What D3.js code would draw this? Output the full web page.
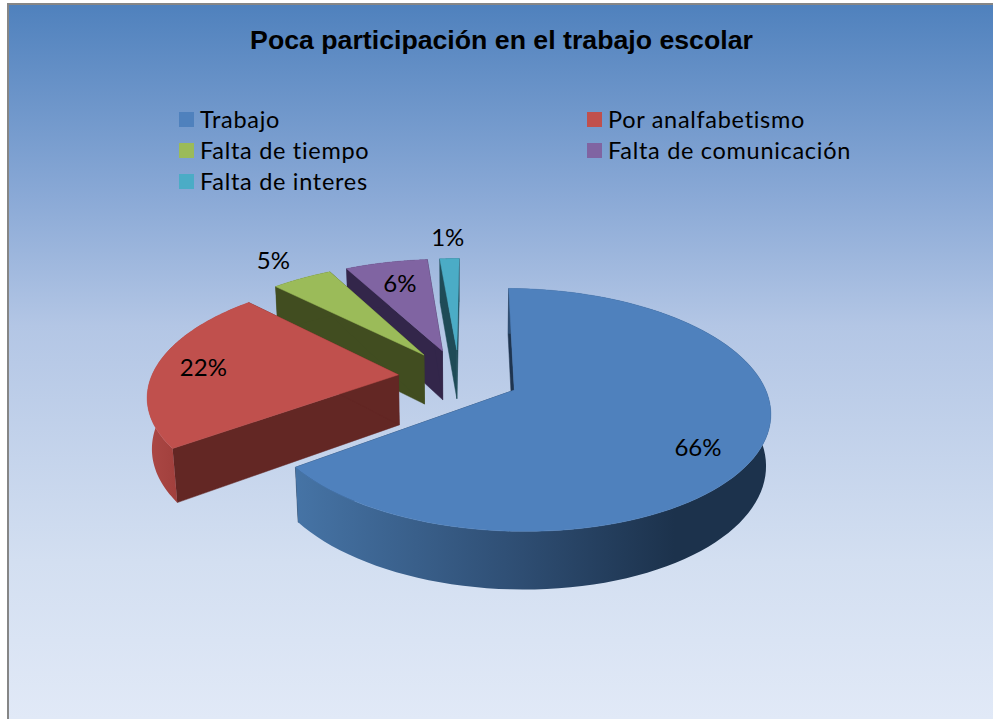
<!DOCTYPE html>
<html>
<head>
<meta charset="utf-8">
<script src="https://cdnjs.cloudflare.com/ajax/libs/d3/7.8.5/d3.min.js"></script>
<style>
html, body { margin: 0; padding: 0; background: #fff; }
svg { display: block; }
</style>
</head>
<body>
<svg id="chart"></svg>
<script>
const chartTitle = "Poca participación en el trabajo escolar"
const categories = ["Trabajo", "Por analfabetismo", "Falta de tiempo", "Falta de comunicación", "Falta de interes"]
// printed on the slices
const percents = [66, 22, 5, 6, 1]
// wedge sizes as measured on the drawn pie, the 3d view makes them differ a bit from the printed ones
const wedgeShares = [64.8, 22.6, 4.7, 6.4, 1.5]
const topColors = ["#4f81bd", "#c0504d", "#9bbb59", "#8064a2", "#4bacc6"]
const wallColors = ["#1f3550", "#632724", "#414d20", "#33264a", "#1f4b57"]
// how far out along the slice each % label sits, 1 = on the edge
const labelRadius = [0.8, 0.805, 1.27, 0.73, 1.28]
// label turned away from the middle of the slice, in radians
const labelTurn = [0.125, 0, 0, 0, 0]

const width = 993
const height = 719

// the 3d look: squashed disc with a bit of perspective
const cx = 459, cy = 377
const radiusX = 247, radiusY = 114
const perspective = 0.16, depth = 51, depthShrink = 0.015
const explode = 0.247

const svg = d3.select("#chart").attr("width", width).attr("height", height)
const defs = svg.append("defs")

const bg = defs.append("linearGradient").attr("id", "bg").attr("x1", 0).attr("y1", 0).attr("x2", 0).attr("y2", 1)
bg.append("stop").attr("offset", "0%").attr("stop-color", "#4f81bd")
bg.append("stop").attr("offset", "27%").attr("stop-color", "#8aa9d6")
bg.append("stop").attr("offset", "45%").attr("stop-color", "#b3c6e5")
bg.append("stop").attr("offset", "78%").attr("stop-color", "#d3dff1")
bg.append("stop").attr("offset", "100%").attr("stop-color", "#e1e9f7")

const rimBlue = defs.append("linearGradient").attr("id", "rimBlue")
    .attr("gradientUnits", "userSpaceOnUse").attr("x1", 293).attr("y1", 0).attr("x2", 770).attr("y2", 0)
rimBlue.append("stop").attr("offset", "0%").attr("stop-color", "#4674a6")
rimBlue.append("stop").attr("offset", "48%").attr("stop-color", "#2e4d72")
rimBlue.append("stop").attr("offset", "80%").attr("stop-color", "#1c324c")
rimBlue.append("stop").attr("offset", "100%").attr("stop-color", "#1c324c")

const rimRed = defs.append("linearGradient").attr("id", "rimRed")
    .attr("gradientUnits", "userSpaceOnUse").attr("x1", 149).attr("y1", 0).attr("x2", 180).attr("y2", 0)
rimRed.append("stop").attr("offset", "0%").attr("stop-color", "#ab4744")
rimRed.append("stop").attr("offset", "100%").attr("stop-color", "#a03f3c")

const rimFills = ["url(#rimBlue)", "url(#rimRed)", wallColors[2], wallColors[3], wallColors[4]]

// background and the grey frame on the left and top
svg.append("rect").attr("x", 8).attr("y", 4).attr("width", width - 8).attr("height", height - 4).attr("fill", "url(#bg)")
svg.append("path").attr("d", `M8,${height}V4H${width}`).attr("fill", "none").attr("stroke", "#868686").attr("stroke-width", 2)

// u is left/right on the disc, v is back/front, z is 0 on top and 1 on the bottom
const project = (u, v, z) => {
    const w = 1 - perspective * v + depthShrink * z
    return [cx + radiusX * u / w, cy + (radiusY * v + depth * z) / w]
}

const slices = d3.pie().sort(null).value(d => d).startAngle(0.01).endAngle(2 * Math.PI + 0.01)(wedgeShares)
const line = d3.line()

slices.forEach(s => {
    s.mid = (s.startAngle + s.endAngle) / 2
    s.offU = explode * Math.sin(s.mid)
    s.offV = -explode * Math.cos(s.mid)
})

const onDisc = (s, angle, r, z) => project(s.offU + r * Math.sin(angle), s.offV - r * Math.cos(angle), z)
const arcPoints = (s, z) => d3.range(0, 1.0001, 0.01).map(t => onDisc(s, s.startAngle + t * (s.endAngle - s.startAngle), 1, z))

// back slices first, the big one goes over everything
const order = [4, 3, 2, 1, 0]
const pieG = svg.append("g")

order.forEach(i => {
    const s = slices[i]
    const g = pieG.append("g")
    const apexTop = onDisc(s, s.mid, 0, 0)
    const apexBottom = onDisc(s, s.mid, 0, 1)

    const walls = [s.startAngle, s.endAngle].map(a => [apexTop, onDisc(s, a, 1, 0), onDisc(s, a, 1, 1), apexBottom])
    g.selectAll(".wall").data(walls).enter().append("path")
        .attr("class", "wall")
        .attr("d", d => line(d) + "Z")
        .attr("fill", wallColors[i])
        .attr("stroke", wallColors[i])
        .attr("stroke-width", 0.5)

    g.append("path")
        .attr("d", line(arcPoints(s, 0).concat(arcPoints(s, 1).reverse())) + "Z")
        .attr("fill", rimFills[i])

    g.append("path")
        .attr("d", line([apexTop].concat(arcPoints(s, 0))) + "Z")
        .attr("fill", topColors[i])
        .attr("stroke", topColors[i])
        .attr("stroke-width", 0.5)
})

// labels
const labelFont = "Lato, 'Noto Sans', sans-serif"
svg.selectAll(".pct").data(slices).enter().append("text")
    .attr("class", "pct")
    .attr("transform", (s, i) => `translate(${onDisc(s, s.mid + labelTurn[i], labelRadius[i], 0)})`)
    .attr("text-anchor", "middle")
    .attr("dy", "0.35em")
    .attr("font-family", labelFont)
    .attr("font-size", 24)
    .attr("fill", "#000")
    .text((s, i) => percents[i] + "%")

svg.append("text")
    .attr("x", 501.5)
    .attr("y", 49)
    .attr("text-anchor", "middle")
    .attr("font-family", "'Liberation Sans', Arial, sans-serif")
    .attr("font-weight", "bold")
    .attr("font-size", 26.7)
    .attr("fill", "#000")
    .text(chartTitle)

// legend fills left to right, two columns
const legendX = d3.scalePoint().domain([0, 1]).range([179, 587])
const legendY = d3.scalePoint().domain([0, 1, 2]).range([112, 174])
const legend = svg.selectAll(".legend").data(categories).enter().append("g")
    .attr("class", "legend")
    .attr("transform", (d, i) => `translate(${legendX(i % 2)},${legendY(Math.floor(i / 2))})`)
legend.append("rect")
    .attr("width", 15).attr("height", 15)
    .attr("fill", (d, i) => topColors[i])
legend.append("text")
    .attr("x", 21)
    .attr("y", 16)
    .attr("font-family", labelFont)
    .attr("font-size", 23.5)
    .attr("letter-spacing", 0.7)
    .attr("fill", "#000")
    .text(d => d)
</script>
</body>
</html>
